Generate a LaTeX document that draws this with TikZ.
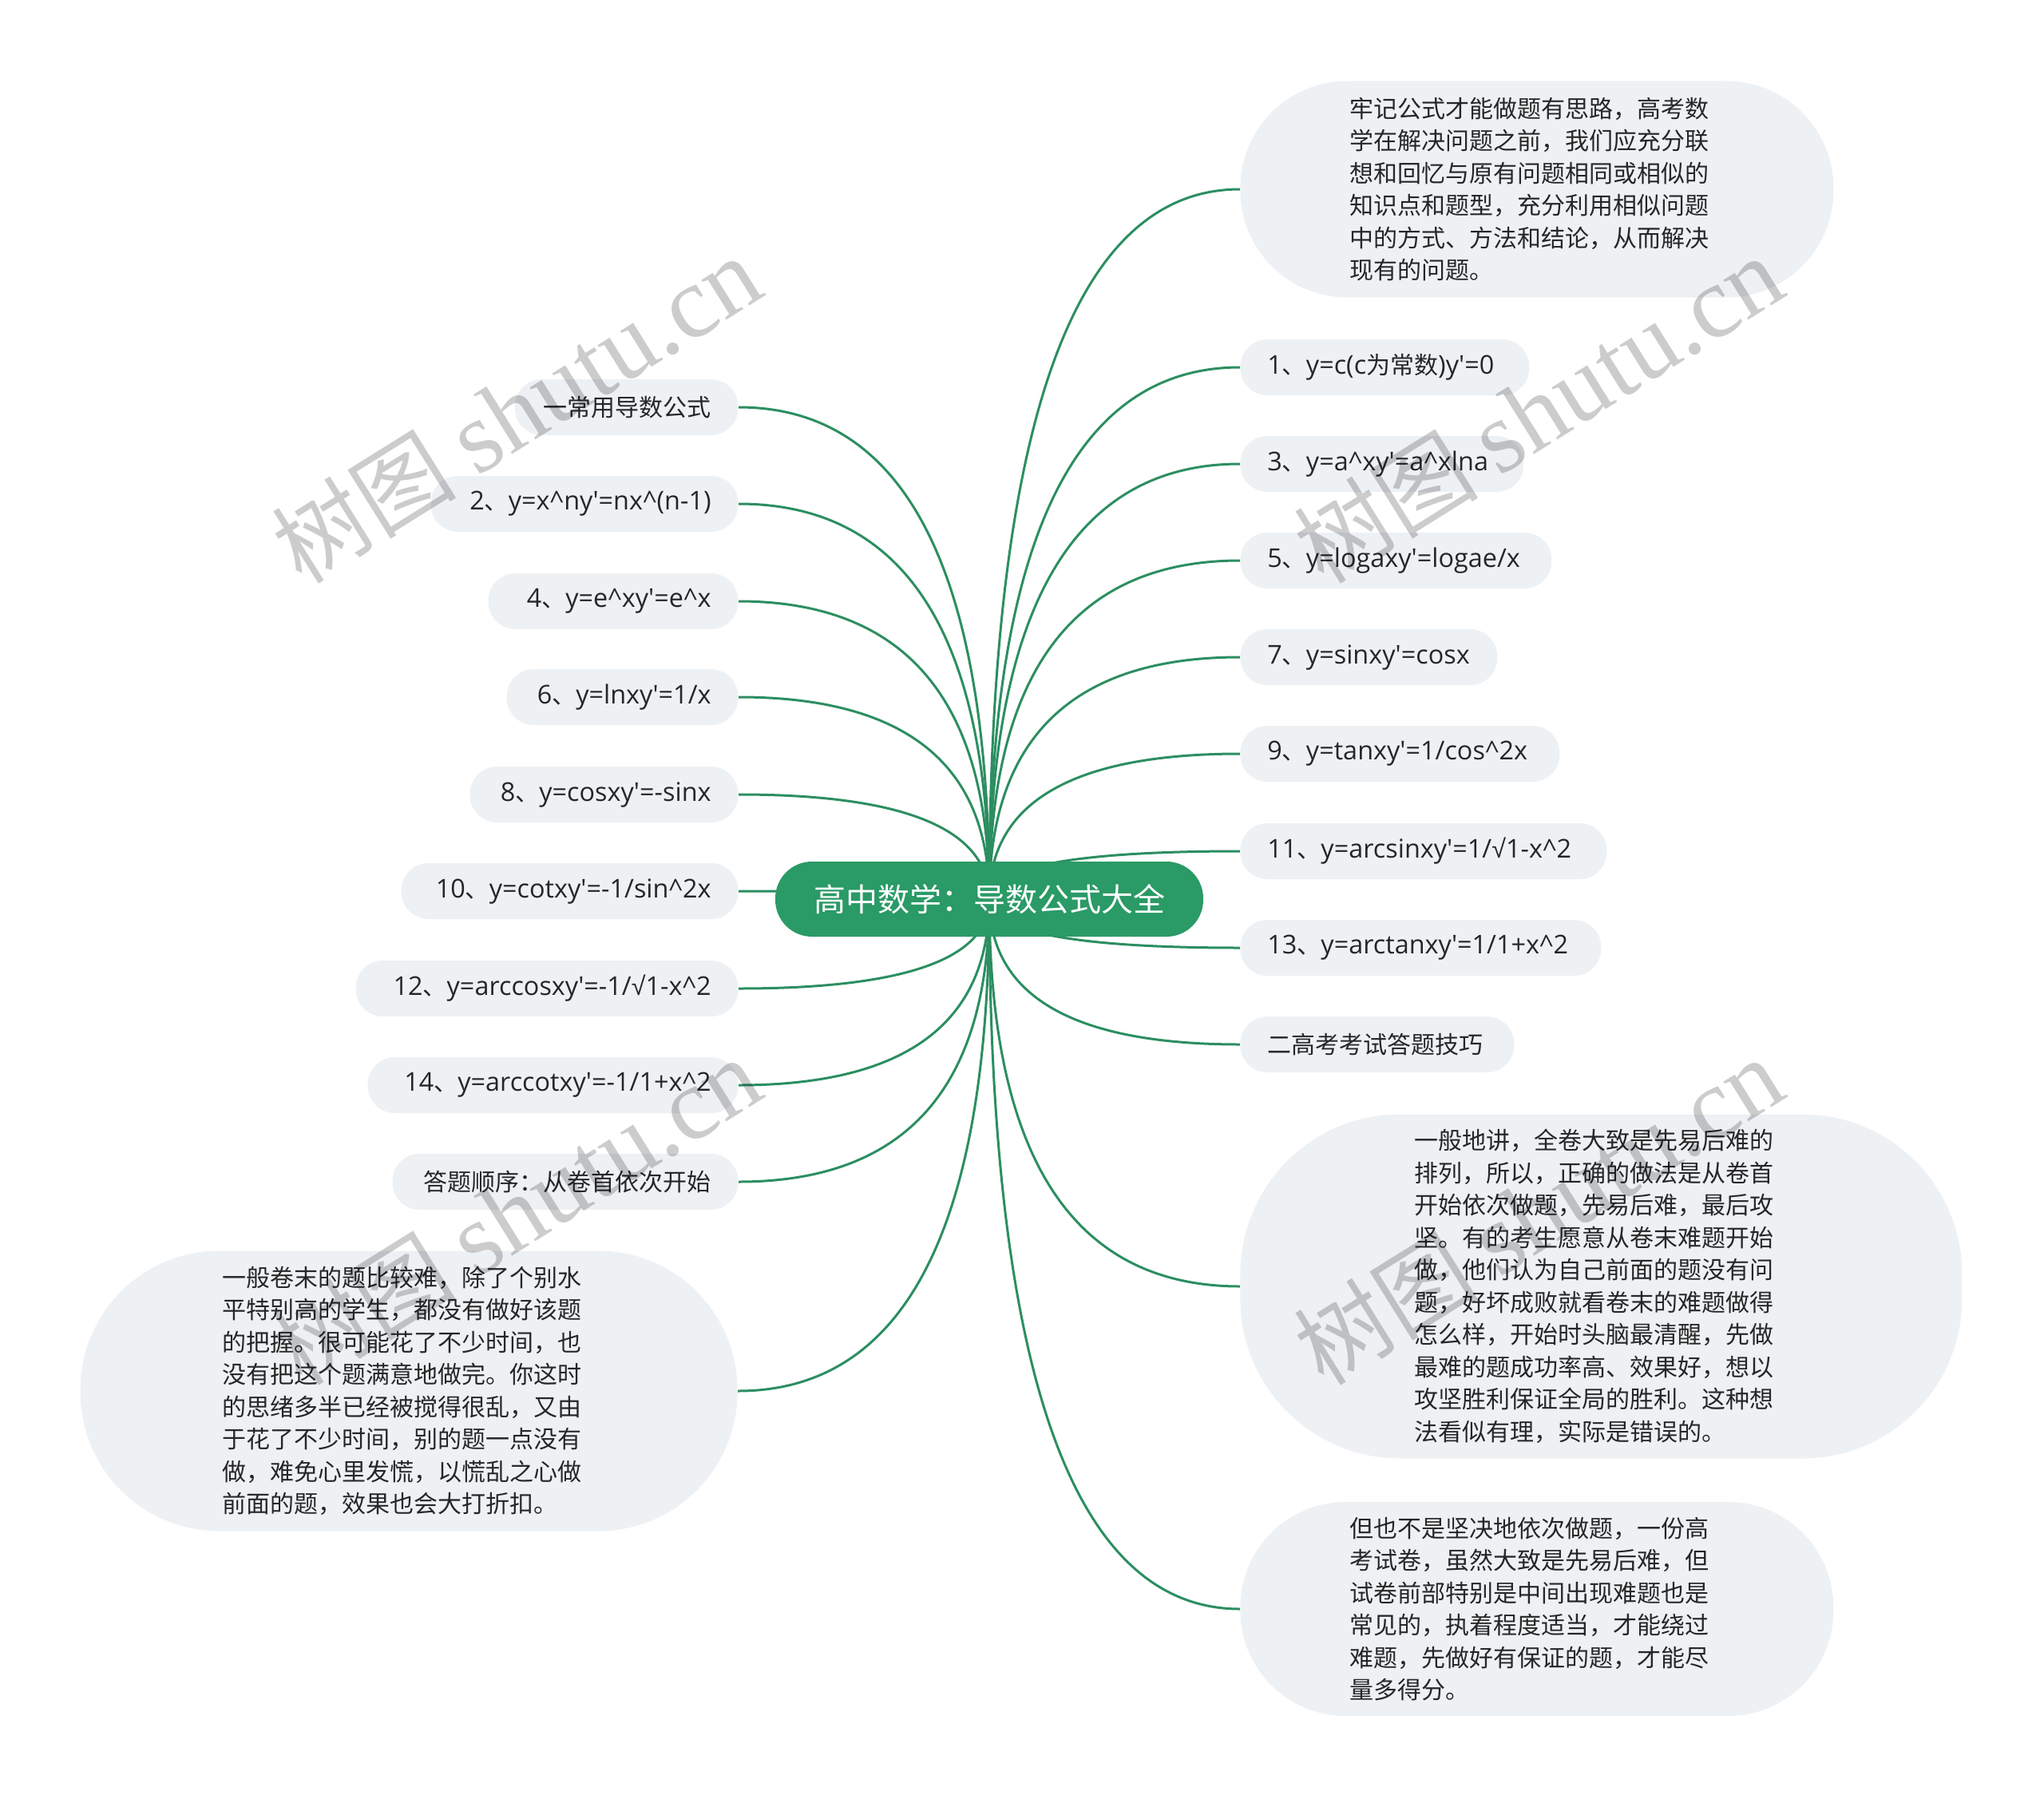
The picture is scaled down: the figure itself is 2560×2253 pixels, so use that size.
\documentclass[tikz,border=0pt]{standalone}
\usepackage{fontspec}
\setmainfont{Noto Sans CJK SC}
\newfontfamily\wmserif{Liberation Serif}
\newfontfamily\latfont{Open Sans}
\newfontfamily\radfont{Liberation Sans}
\usetikzlibrary{calc,backgrounds}
\definecolor{rootgreen}{RGB}{42,154,102}
\definecolor{linegreen}{RGB}{44,142,97}
\definecolor{nodebg}{RGB}{238,241,244}
\definecolor{txt}{RGB}{38,38,38}
\newcommand\ap{\textquotesingle}
\newcommand\ca{\textasciicircum}
\newcommand\la[1]{{\latfont\fontsize{16.2pt}{18pt}\selectfont #1}}
\newcommand\rad{{\radfont\fontsize{16.2pt}{18pt}\selectfont √}}
\newcommand\rtx[2]{\makebox[#1][l]{#2}}
\newcommand\ltx[2]{\makebox[#1][r]{#2}}
\newcommand\mylink[2]{%
  \path (#1.center |- #2) coordinate (tmpc);
  \draw[link] (#1.center) .. controls ($(#1.center)!0.6667!(tmpc)$) and ($(#2)!0.6667!(tmpc)$) .. (#2);}
\begin{document}
\begin{tikzpicture}[x=0.5pt,y=-0.5pt,
  leaf/.style={fill=nodebg, text=txt, rounded corners=17pt, minimum height=35pt,
    inner ysep=0pt, inner xsep=17pt, font=\fontsize{15pt}{18pt}\selectfont},
  rleaf/.style={leaf, anchor=west},
  lleaf/.style={leaf, anchor=east},
  bigbox/.style={fill=nodebg, text=txt, align=left, inner sep=0pt, text width=234pt,
    font=\fontsize{15pt}{20.25pt}\selectfont},
  rootbox/.style={fill=rootgreen, text=white, rounded corners=23pt, minimum width=268pt,
    minimum height=47pt, inner sep=0pt, font=\fontsize{20pt}{24pt}\selectfont},
  link/.style={draw=linegreen, line width=1.5pt},
  wm/.style={rotate=32, text=black, text opacity=0.2, inner sep=0pt,
    font=\fontsize{58pt}{60pt}\selectfont}
]
\begin{scope}[on background layer]
\fill[white] (0,0) rectangle (2560,2253);
\end{scope}
\useasboundingbox (0,0) rectangle (2560,2253);

% root
\node[rootbox] (root) at (1239,1126) {高中数学：导数公式大全};

% right side
\node[bigbox, anchor=west, minimum width=371.5pt, minimum height=135.5pt, rounded corners=67pt] (r1) at (1553,237)
 {牢记公式才能做题有思路，高考数\\学在解决问题之前，我们应充分联\\想和回忆与原有问题相同或相似的\\知识点和题型，充分利用相似问题\\中的方式、方法和结论，从而解决\\现有的问题。};
\node[rleaf] (r2) at (1553,460) {\rtx{147pt}{\la{1}、\la{y=c(c}为常数\la{)y\ap=0}}};
\node[rleaf] (r3) at (1553,581) {\rtx{143.5pt}{\la{3}、\la{y=a\ca xy\ap=a\ca xlna}}};
\node[rleaf] (r4) at (1553,702) {\rtx{161pt}{\la{5}、\la{y=logaxy\ap=logae/x}}};
\node[rleaf] (r5) at (1553,823) {\rtx{127pt}{\la{7}、\la{y=sinxy\ap=cosx}}};
\node[rleaf] (r6) at (1553,944) {\rtx{166pt}{\la{9}、\la{y=tanxy\ap=1/cos\ca 2x}}};
\node[rleaf] (r7) at (1553,1066) {\rtx{195.5pt}{\la{11}、\la{y=arcsinxy\ap=1/}\rad\la{1-x\ca 2}}};
\node[rleaf] (r8) at (1553,1187) {\rtx{192pt}{\la{13}、\la{y=arctanxy\ap=1/1+x\ca 2}}};
\node[rleaf] (r9) at (1553,1308) {\rtx{137.5pt}{二高考考试答题技巧}};
\node[bigbox, anchor=west, minimum width=452pt, minimum height=215.5pt, rounded corners=100pt] (r10) at (1553,1611)
 {一般地讲，全卷大致是先易后难的\\排列，所以，正确的做法是从卷首\\开始依次做题，先易后难，最后攻\\坚。有的考生愿意从卷末难题开始\\做，他们认为自己前面的题没有问\\题，好坏成败就看卷末的难题做得\\怎么样，开始时头脑最清醒，先做\\最难的题成功率高、效果好，想以\\攻坚胜利保证全局的胜利。这种想\\法看似有理，实际是错误的。};
\node[bigbox, anchor=west, minimum width=371.5pt, minimum height=134pt, rounded corners=66pt] (r11) at (1553,2015)
 {但也不是坚决地依次做题，一份高\\考试卷，虽然大致是先易后难，但\\试卷前部特别是中间出现难题也是\\常见的，执着程度适当，才能绕过\\难题，先做好有保证的题，才能尽\\量多得分。};

% left side
\node[lleaf] (l1) at (925,510) {\ltx{106pt}{一常用导数公式}};
\node[lleaf] (l2) at (925,631) {\ltx{158.5pt}{\la{2}、\la{y=x\ca ny\ap=nx\ca(n-1)}}};
\node[lleaf] (l3) at (925,753) {\ltx{122.5pt}{\la{4}、\la{y=e\ca xy\ap=e\ca x}}};
\node[lleaf] (l4) at (925,873) {\ltx{111pt}{\la{6}、\la{y=lnxy\ap=1/x}}};
\node[lleaf] (l5) at (925,995) {\ltx{134pt}{\la{8}、\la{y=cosxy\ap=-sinx}}};
\node[lleaf] (l6) at (925,1116) {\ltx{177pt}{\la{10}、\la{y=cotxy\ap=-1/sin\ca 2x}}};
\node[lleaf] (l7) at (925,1238) {\ltx{205.5pt}{\la{12}、\la{y=arccosxy\ap=-1/}\rad\la{1-x\ca 2}}};
\node[lleaf] (l8) at (925,1359) {\ltx{198pt}{\la{14}、\la{y=arccotxy\ap=-1/1+x\ca 2}}};
\node[lleaf] (l9) at (925,1480) {\ltx{182.5pt}{答题顺序：从卷首依次开始}};
\node[bigbox, anchor=east, minimum width=411.5pt, minimum height=175.5pt, rounded corners=87pt] (l10) at (924,1742)
 {一般卷末的题比较难，除了个别水\\平特别高的学生，都没有做好该题\\的把握。很可能花了不少时间，也\\没有把这个题满意地做完。你这时\\的思绪多半已经被搅得很乱，又由\\于花了不少时间，别的题一点没有\\做，难免心里发慌，以慌乱之心做\\前面的题，效果也会大打折扣。};

% connectors
\begin{scope}[on background layer]
\foreach \n in {r1,r2,r3,r4,r5,r6,r7,r8,r9,r10,r11}{\mylink{root}{\n.west}}
\foreach \n in {l1,l2,l3,l4,l5,l6,l7,l8,l9,l10}{\mylink{root}{\n.east}}
\end{scope}

% watermarks
\node[wm] (wm1) at (647,514) {树图 {\wmserif\fontsize{64pt}{64pt}\selectfont shutu.cn}};
\node[wm] (wm2) at (1927,514) {树图 {\wmserif\fontsize{64pt}{64pt}\selectfont shutu.cn}};
\node[wm] (wm3) at (647,1518) {树图 {\wmserif\fontsize{64pt}{64pt}\selectfont shutu.cn}};
\node[wm] (wm4) at (1927,1518) {树图 {\wmserif\fontsize{64pt}{64pt}\selectfont shutu.cn}};
\end{tikzpicture}
\end{document}
